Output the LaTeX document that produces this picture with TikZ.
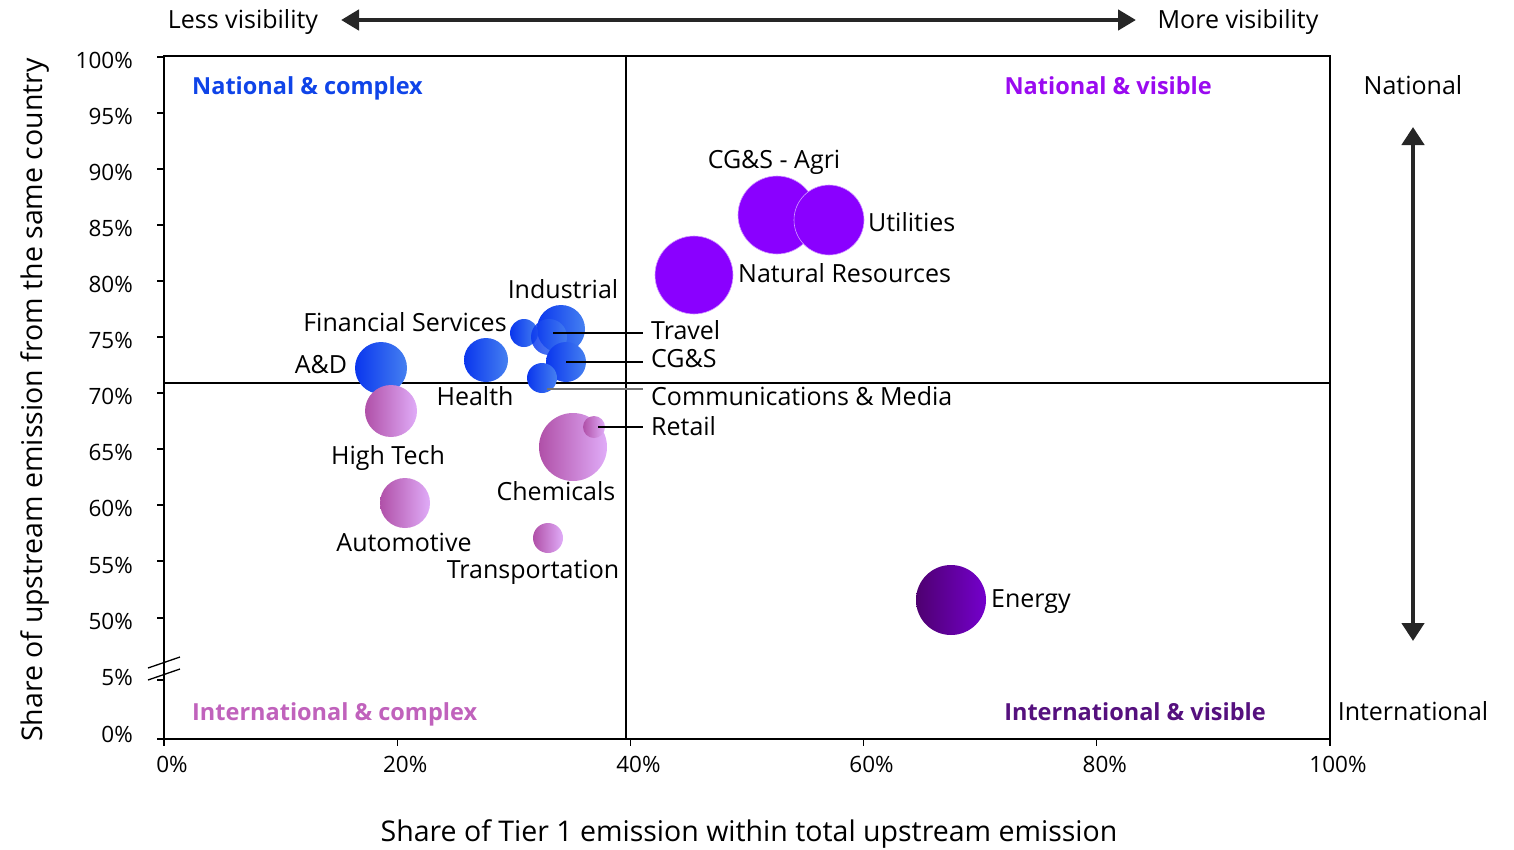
\documentclass[tikz,border=0pt]{standalone}
\usepackage{fontspec}
\setmainfont{Open Sans}
\usetikzlibrary{arrows.meta}
\definecolor{bluL}{HTML}{0A36EE}
\definecolor{bluR}{HTML}{4580F0}
\definecolor{pnkL}{HTML}{B050A8}
\definecolor{pnkR}{HTML}{E0ACF8}
\definecolor{prp}{HTML}{8A00FF}
\definecolor{enL}{HTML}{4E0070}
\definecolor{enR}{HTML}{7400CC}
\definecolor{qNC}{HTML}{0F44E8}
\definecolor{qNV}{HTML}{9A0AF0}
\definecolor{qIC}{HTML}{C062BC}
\definecolor{qIV}{HTML}{55107E}
\tikzset{
 bub/.style={circle,inner sep=0pt,minimum size=#1},
 bblue/.style={left color=bluL,right color=bluR},
 bpink/.style={left color=pnkL,right color=pnkR},
 bprp/.style={fill=prp,draw=white!60!prp,line width=0.6},
 txt/.style={inner sep=0pt,text height=0.72em,text depth=0.2em},
 lbl/.style={txt,yshift=-6pt,font=\fontsize{25}{30}\selectfont},
 tck/.style={txt,yshift=-5pt,font=\fontsize{22.5}{27}\selectfont},
 quad/.style={txt,yshift=-6pt,font=\fontsize{23.5}{28}\selectfont\bfseries},
 ttl/.style={txt,font=\fontsize{28.5}{34}\selectfont},
 ldr/.style={line width=1.3},
 bigarr/.style={line width=4.5,color=black!85},
}
\begin{document}
\begin{tikzpicture}[x=1pt,y=-1pt]
\useasboundingbox (0,0) rectangle (1514,849);
\begin{scope}
%рамка и оси
\draw[line width=1.3] (164,56) rectangle (1330,739);
\draw[line width=1.3] (626,56) -- (626,739); %x = 40%
\draw[line width=1.3] (164,383) -- (1330,383); %y ~ 71%
\foreach \v/\y/\ly in {100/57/61,95/113/117,90/169/173,85/225/229,80/281/285,75/337/341,70/393/397,65/449/453,60/505/509,55/561/566,50/618/622,5/680/678,0/739/735}
{\draw[line width=1.3] (157,\y) -- (164,\y);
 \node[tck,anchor=east] (y\v) at (133,\ly) {\v\%};}
\foreach \p in {0,20,...,100}
{\draw[line width=1.3] (164+11.66*\p,739) -- (164+11.66*\p,746);
 \node[tck] (x\p) at (172+11.66*\p,765) {\p\%};}
%разрыв оси
\draw[line width=1.3] (148,668) -- (180,657);
\draw[line width=1.3] (148,680) -- (180,669);
\end{scope}
%подписи осей
\node[ttl,rotate=90] (ytitle) at (40,400) {Share of upstream emission from the same country};
\node[ttl] (xtitle) at (749,839) {Share of Tier 1 emission within total upstream emission};
\node[lbl] (less) at (243,20) {Less visibility};
\node[lbl] (more) at (1238,20) {More visibility};
\coordinate (hl) at (341,20);
\coordinate (hr) at (1136,20);
\draw[bigarr,{Triangle[length=18,width=20]}-{Triangle[length=18,width=20]}] (hl) -- (hr);
\node[lbl] (natl) at (1413,86) {National};
\node[lbl] (intl) at (1413,712) {International};
\coordinate (vtop) at (1413,127);
\coordinate (vbot) at (1413,641);
\draw[bigarr,{Triangle[length=18,width=22]}-{Triangle[length=18,width=22]}] (vtop) -- (vbot);
%квадранты
\node[quad,qNC,anchor=west] (qnc) at (192,86) {National \& complex};
\node[quad,qNV,anchor=east] (qnv) at (1212,86) {National \& visible};
\node[quad,qIC,anchor=west] (qic) at (192,712) {International \& complex};
\node[quad,qIV,anchor=east] (qiv) at (1266,712) {International \& visible};
%пузыри
\node[bub=52,bblue] (ad) at (381,368) {};
\node[bub=44,bblue] (health) at (486,360) {};
\node[bub=48,bblue] (industrial) at (561,329) {};
\node[bub=28,bblue] (finserv) at (524,333) {};
\node[bub=36,bblue,fill opacity=0.85] (travel) at (549,337) {};
\node[bub=40,bblue] (cgs) at (566,362) {};
\node[bub=30,bblue] (commmedia) at (542,378) {};
\node[bub=52,bpink] (hightech) at (391,411) {};
\node[bub=68,bpink] (chem) at (573,447) {};
\node[bub=22,bpink] (retail) at (594,427) {};
\node[bub=50,bpink] (auto) at (405,503) {};
\node[bub=30,bpink] (transport) at (548,538) {};
\node[bub=78,bprp] (natres) at (694,275) {};
\node[bub=78,bprp] (agri) at (777,215) {};
\node[bub=70,bprp] (util) at (829,220) {};
\node[bub=70,left color=enL,right color=enR] (energy) at (951,600) {};
%подписи
\node[lbl] (adL) at (321,365) {A\&D};
\node[lbl] (healthL) at (475,397) {Health};
\node[lbl] (industrialL) at (563,290) {Industrial};
\node[lbl] (finservL) at (405,323) {Financial Services};
\node[lbl,anchor=west] (travelL) at (651,331) {Travel};
\node[lbl,anchor=west] (cgsL) at (651,359) {CG\&S};
\node[lbl,anchor=west] (commL) at (651,397) {Communications \& Media};
\node[lbl,anchor=west] (retailL) at (651,427) {Retail};
\node[lbl] (hightechL) at (388,456) {High Tech};
\node[lbl] (chemL) at (556,492) {Chemicals};
\node[lbl] (autoL) at (404,543) {Automotive};
\node[lbl] (transportL) at (533,570) {Transportation};
\node[lbl] (agriL) at (774,160) {CG\&S - Agri};
\node[lbl,anchor=west] (utilL) at (868,223) {Utilities};
\node[lbl,anchor=west] (natresL) at (738,274) {Natural Resources};
\node[lbl,anchor=west] (energyL) at (991,599) {Energy};
%выноски
\coordinate (travelE) at (643,333);
\coordinate (cgsE) at (643,362);
\coordinate (commE) at (643,389);
\coordinate (retailE) at (643,427);
\draw[ldr] ([shift={(4,-4)}]travel.center) -- (travelE);
\draw[ldr] (cgs.center) -- (cgsE);
\draw[ldr,black!55] ([shift={(5,11)}]commmedia.center) -- (commE);
\draw[ldr] ([shift={(4,0)}]retail.center) -- (retailE);
\end{tikzpicture}
\end{document}
